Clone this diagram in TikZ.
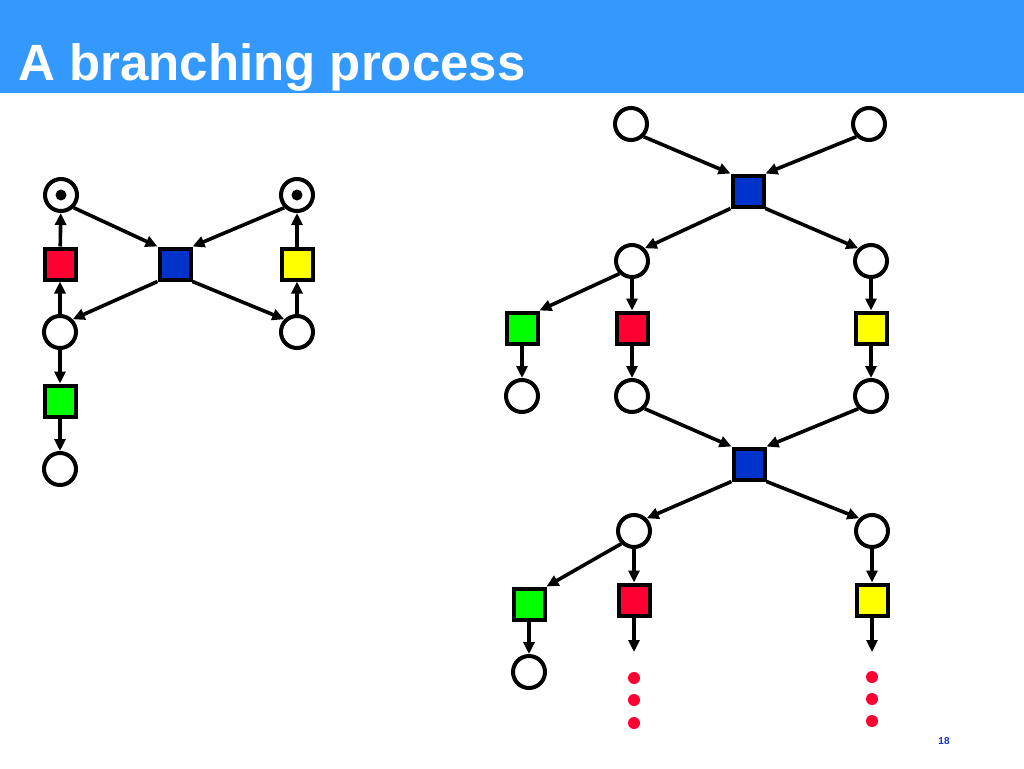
\documentclass[tikz,border=0pt]{standalone}
\usepackage{fontspec}
\setmainfont{Liberation Sans}
\usepackage{tikz}
\usetikzlibrary{arrows.meta}

\definecolor{titleblue}{RGB}{51,153,255}
\definecolor{pageblue}{RGB}{20,50,200}
\definecolor{netred}{RGB}{255,0,51}
\definecolor{netblue}{RGB}{0,51,204}
\definecolor{netgreen}{RGB}{0,255,0}
\definecolor{netyellow}{RGB}{255,255,0}

\begin{document}
\begin{tikzpicture}[x=1pt,y=-1pt,
  place/.style={draw,circle,line width=4pt,minimum size=32pt,inner sep=0pt,fill=white},
  trans/.style={draw,rectangle,line width=4pt,minimum size=31pt,inner sep=0pt},
  arc/.style={-{Triangle[length=12pt,width=11pt]},line width=3.6pt}]
\useasboundingbox (0,0) rectangle (1024,768);
\fill[titleblue] (0,0) rectangle (1024,93);
\node[anchor=base west,text=white,font=\bfseries\fontsize{51}{60}\selectfont,inner sep=0pt] (title) at (18,80) {A branching process};
\node[text=pageblue,font=\bfseries\fontsize{10}{12}\selectfont] (page) at (944,741) {18};

% left net
\node[place] (l1) at (61,195) {};
\node[place] (l2) at (297,195) {};
\node[trans,fill=netred] (lr) at (60,264) {};
\node[trans,fill=netblue] (lb) at (175,264) {};
\node[trans,fill=netyellow] (ly) at (297,264) {};
\node[place] (l3) at (60,332) {};
\node[place] (l4) at (297,332) {};
\node[trans,fill=netgreen] (lg) at (60,401) {};
\node[place] (l5) at (60,469) {};
\fill (l1) circle (5.5pt);
\fill (l2) circle (5.5pt);

\draw[arc] (l1.south east) -- (lb.north west);
\draw[arc] (l2.south west) -- (lb.north east);
\draw[arc] (lb.south west) -- (l3.north east);
\draw[arc] (lb.south east) -- (l4.north west);
\foreach \a/\b in {l3/lr, lr/l1, l4/ly, ly/l2, l3/lg, lg/l5}{
    \draw[arc] (\a) -- (\b);
}

% right net
\node[place] (r1) at (631,124) {};
\node[place] (r2) at (869,124) {};
\node[trans,fill=netblue] (rb1) at (748,191) {};
\node[place] (r3) at (632,261) {};
\node[place] (r4) at (871,261) {};
\node[trans,fill=netgreen] (rg1) at (522,328) {};
\node[trans,fill=netred] (rr1) at (632,328) {};
\node[trans,fill=netyellow] (ry1) at (871,328) {};
\node[place] (r5) at (522,396) {};
\node[place] (r6) at (632,396) {};
\node[place] (r7) at (871,396) {};
\node[trans,fill=netblue] (rb2) at (749,464) {};
\node[place] (r8) at (634,531) {};
\node[place] (r9) at (872,531) {};
\node[trans,fill=netgreen] (rg2) at (529,604) {};
\node[trans,fill=netred] (rr2) at (634,600) {};
\node[trans,fill=netyellow] (ry2) at (872,600) {};
\node[place] (r10) at (529,672) {};
\coordinate (e1) at (634,652);
\coordinate (e2) at (872,652);

\draw[arc] (r1.south east) -- (rb1.north west);
\draw[arc] (r2.south west) -- (rb1.north east);
\draw[arc] (rb1.south west) -- (r3.north east);
\draw[arc] (rb1.south east) -- (r4.north west);
\draw[arc] (r3.south west) -- (rg1.north east);
\draw[arc] (r6.south east) -- (rb2.north west);
\draw[arc] (r7.south west) -- (rb2.north east);
\draw[arc] (rb2.south west) -- (r8.north east);
\draw[arc] (rb2.south east) -- (r9.north west);
\draw[arc] (r8.south west) -- (rg2.north east);
\foreach \a/\b in {r3/rr1, r4/ry1, rg1/r5, rr1/r6, ry1/r7, r8/rr2, r9/ry2, rg2/r10, rr2/e1, ry2/e2}{
    \draw[arc] (\a) -- (\b);
}

\foreach \y in {678,700,723}{
    \fill[netred] (634,\y) circle (6pt);
}
\foreach \y in {677,699,721}{
    \fill[netred] (872,\y) circle (6pt);
}
\end{tikzpicture}
\end{document}
